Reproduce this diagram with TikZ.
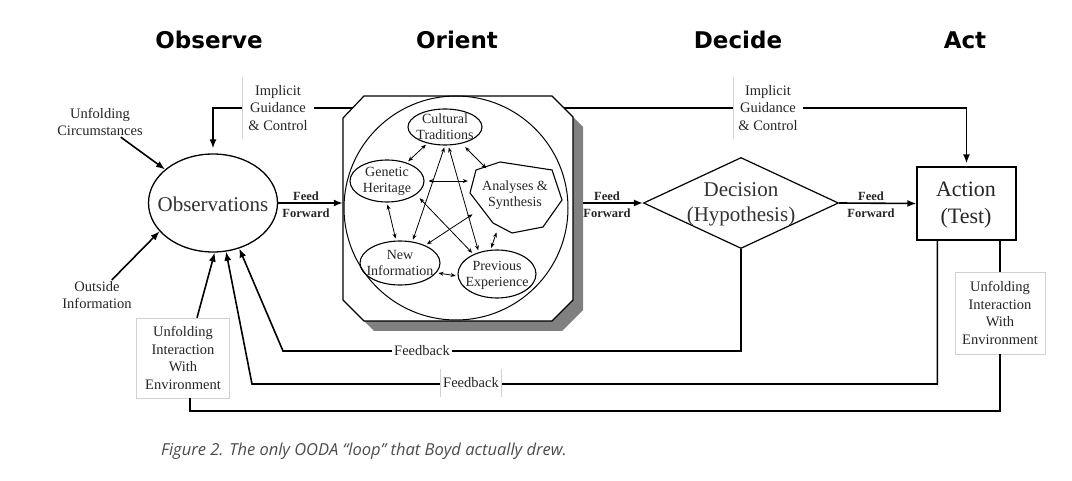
\documentclass[tikz,border=0pt]{standalone}
\usepackage{fontspec}
\setmainfont{Liberation Serif}
\newfontfamily\titlefont{DejaVu Sans}
\newfontfamily\capfont{Open Sans}
\usetikzlibrary{shapes.geometric,arrows.meta,calc}
\begin{document}
\begin{tikzpicture}[x=1pt,y=-1pt,
  txt/.style={font=\fontsize{14.5}{17.5}\selectfont, align=center, text=black!85, inner sep=1pt},
  small/.style={font=\fontsize{14}{16}\selectfont, align=center, text=black!85, inner sep=0pt},
  ffl/.style={font=\bfseries\fontsize{12.5}{17}\selectfont, align=center, text=black!85, inner sep=0pt},
  big/.style={font=\fontsize{21}{25}\selectfont, align=center, text=black!80, inner sep=0pt},
  ttl/.style={font=\titlefont\bfseries\fontsize{23}{27}\selectfont, text=black, inner sep=0pt},
  arr/.style={line width=1.6pt, -{Latex[length=9pt,width=7pt]}},
  heavy/.style={line width=1.6pt},
  dbl/.style={line width=0.8pt, {Stealth[length=5pt,width=4pt]}-{Stealth[length=5pt,width=4pt]}, shorten <=2pt, shorten >=2pt},
  sub/.style={draw, ellipse, line width=1.1pt, inner sep=0pt},
  faint/.style={draw=black!18, line width=0.5pt},
]
\useasboundingbox[fill=white] (0,0) rectangle (1072,481);

% titles
\node[ttl] (tobs) at (209,40) {Observe};
\node[ttl] (tori) at (457,40) {Orient};
\node[ttl] (tdec) at (738,40) {Decide};
\node[ttl] (tact) at (965,40) {Act};

% observations
\node[draw, ellipse, line width=1.3pt, minimum width=129pt, minimum height=98pt, inner sep=0pt] (obs) at (213,203) {};
\node[big] (obst) at (213,204) {Observations};

% side labels
\node[txt] (uc) at (100,122) {Unfolding\\Circumstances};
\node[txt] (oi) at (97,295) {Outside\\Information};
\node[txt, minimum width=93pt, minimum height=80pt] (uie) at (183,358) {Unfolding\\Interaction\\With\\Environment};
\node[txt, minimum width=90pt, minimum height=82pt] (uier) at (1000,313) {Unfolding\\Interaction\\With\\Environment};
\draw[faint] (uie.north west) rectangle (uie.south east);
\draw[faint] (uier.north west) rectangle (uier.south east);

% implicit guidance labels
\node[txt, minimum width=72pt, minimum height=62pt] (gl) at (278,108) {Implicit\\Guidance\\\& Control};
\node[txt, minimum width=70pt, minimum height=62pt] (gr) at (768,108) {Implicit\\Guidance\\\& Control};
\draw[faint] (gl.north west) -- (gl.south west);
\draw[faint] (gr.north west) -- (gr.south west);
\draw[heavy] (gl.east) -- (gr.west);
\draw[arr, shorten >=5pt] (gl.west) -| (obs.north);

% orient box (chamfered, with shadow)
\node[minimum width=230pt, minimum height=225pt, inner sep=0pt] (orient) at (458,208.5) {};
\fill[black!50] (353,128) -- (374,106) -- (562,106) -- (583,127) -- (583,310) -- (562,331) -- (374,331) -- (353,310) -- cycle;
\draw[line width=1.2pt, fill=white] (343,118) -- (364,96) -- (552,96) -- (573,117) -- (573,300) -- (552,321) -- (364,321) -- (343,300) -- cycle;
\node[circle, draw, line width=1pt, minimum size=224pt, inner sep=0pt] (circ) at (456,208) {};

\node[sub, minimum width=74pt, minimum height=36pt] (ct) at (445,127) {};
\node[small] (ctt) at (445,127) {Cultural\\Traditions};
\node[sub, minimum width=74pt, minimum height=42pt] (gh) at (387,181) {};
\node[small] (ght) at (387,181) {Genetic\\Heritage};
\node[sub, minimum width=80pt, minimum height=44pt] (ni) at (400,263) {};
\node[small] (nit) at (400,263) {New\\Information};
\node[sub, minimum width=78pt, minimum height=48pt] (pe) at (497,274) {};
\node[small] (pet) at (497,275) {Previous\\Experience};
\node[ellipse, minimum width=92pt, minimum height=71pt, inner sep=0pt] (as) at (516,198) {};
\draw[line width=1.1pt] (476,170) -- (500,162) -- (552,170) -- (562,200) -- (543,227) -- (512,233) -- (493,223) -- (470,193) -- cycle;
\node[small] (ast) at (515,195) {Analyses \&\\Synthesis};

\draw[dbl] (ct) -- (gh);
\draw[dbl, shorten <=5pt] (ct) -- (as);
\draw[dbl, shorten <=4pt] (gh.east) -- (gh.east -| as.west);
\draw[dbl] (gh.south) -- (ni.100);
\draw[dbl] (ni.-15) -- (pe.183);
\draw[dbl] (pe.105) -- (as.240);
\draw[dbl] (ct.south) -- (ni.60);
\draw[dbl] (ct.-80) -- (pe.130);
\draw[dbl, shorten <=5pt] (gh.-25) -- (pe.140);
\draw[dbl] (as.200) -- (ni.35);

% decision and action
\node[diamond, draw, line width=1.2pt, minimum width=195pt, minimum height=91pt, inner sep=0pt] (dec) at (741,203) {};
\node[big] (dect) at (741,204) {Decision\\(Hypothesis)};
\node[draw, line width=1.3pt, minimum width=99pt, minimum height=73pt, inner sep=0pt] (act) at (966.5,203.5) {};
\node[font=\fontsize{22}{27}\selectfont, align=center, text=black!85, inner sep=0pt] (actt) at (966,205) {Action\\(Test)};
\draw[arr, shorten >=3pt] (gr.east) -| (act.north);

% feed forward
\draw[arr] (obs.east) -- (obs.east -| orient.west);
\node[ffl] (ff1) at (306,204.5) {Feed\\Forward};
\draw[arr] ($(orient.east |- dec.west)+(10,0)$) -- (dec.west);
\node[ffl] (ff2) at (607,204.5) {Feed\\Forward};
\draw[arr] (dec.east) -- (act.west);
\node[ffl] (ff3) at (871,204.5) {Feed\\Forward};

% feedback
\coordinate (fb1) at (283,351);
\draw[arr] (dec.south) |- (fb1) -- (obs.300);
\node[txt, fill=white, inner sep=2pt] (fbl1) at (422,351) {Feedback};
\coordinate (fb2) at (252,384);
\draw[arr] ($(act.south west)+(21,0)$) |- (fb2) -- (obs.285);
\node[txt, fill=white, minimum width=61pt, minimum height=27pt] (fbl2) at (471,383) {Feedback};
\draw[faint] (fbl2.north west) -- (fbl2.south west) (fbl2.north east) -- (fbl2.south east);

% unfolding interaction loop
\draw[heavy] (uier.north |- act.south) -- (uier.north);
\draw[heavy] (uier.south) |- ($(uie.south)+(7,13)$) -- ($(uie.south)+(7,0)$);
\draw[arr] ($(uie.north)+(14,0)$) -- (obs.272);
\draw[arr] (uc) -- (obs.145);
\draw[arr] (oi) -- (obs.208);

% caption
\node[font=\capfont\itshape\fontsize{16.5}{19}\selectfont, text=black!70, anchor=west, inner sep=0pt] (cap) at (161,451) {Figure 2. The only OODA “loop” that Boyd actually drew.};
\end{tikzpicture}
\end{document}
